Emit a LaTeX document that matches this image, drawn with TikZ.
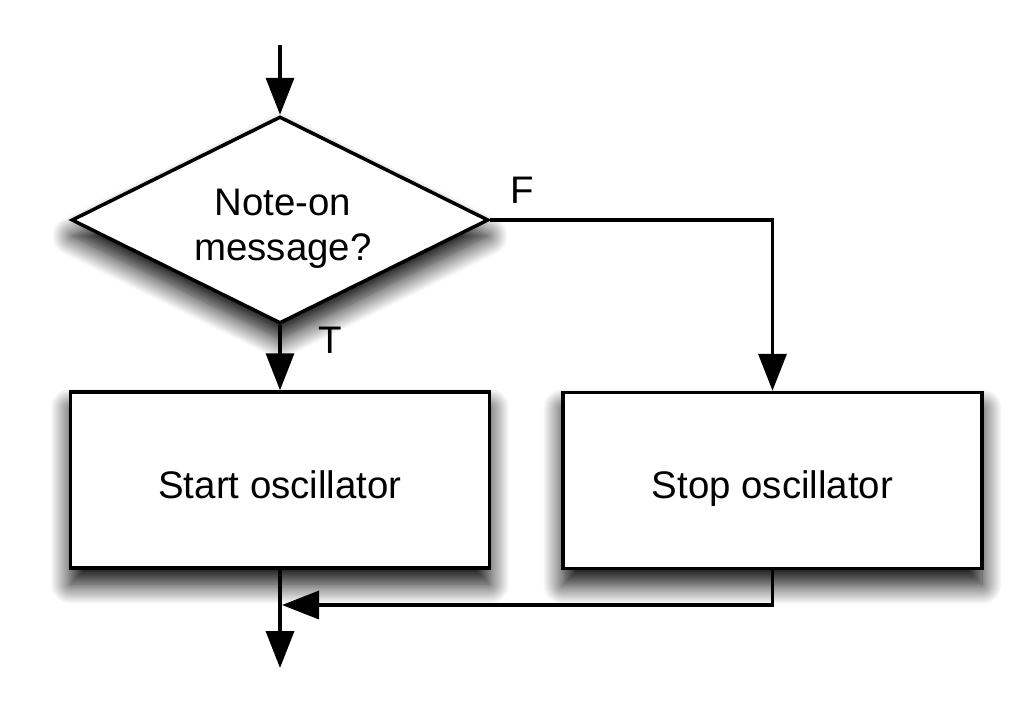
\documentclass[tikz,border=0pt]{standalone}
\usepackage{fontspec}
\setmainfont{Liberation Sans}
\usetikzlibrary{arrows.meta,shapes.geometric,shadows.blur}
\begin{document}
\begin{tikzpicture}[x=1pt,y=-1pt,
  line width=3.5pt,
  every node/.style={font=\fontsize{38.4}{45}\selectfont},
  arr/.style={-{Triangle[width=28pt,length=37pt]}},
  boxshadow/.style={blur shadow={shadow xshift=0pt,shadow yshift=-16pt,shadow blur radius=20pt,shadow blur steps=20,shadow opacity=100}},
  procbox/.style={draw,fill=white,rectangle,minimum width=419pt,minimum height=176pt,inner sep=0pt,text height=36pt,text depth=0pt,boxshadow},
  decbox/.style={draw,fill=white,diamond,aspect=2,minimum width=417pt,minimum height=207pt,inner sep=0pt,boxshadow},
  lbl/.style={inner sep=0pt}
]
\useasboundingbox (0,0) rectangle (1014,716);
\node[decbox] (d) at (280,220) {};
\node[lbl,align=center] (dt) at (283,229) {Note-on\\message?};
\node[procbox] (s) at (280,480) {Start oscillator};
\node[procbox] (p) at (772.5,480.5) {Stop oscillator};
\node[lbl] (F) at (522,190) {F};
\node[lbl] (T) at (330,340) {T};
\coordinate (t0) at (280,45);
\coordinate (j) at (282,605);
\coordinate (e) at (280,668);
\draw[arr] (t0) -- (d.north);
\draw[arr] (d.south) -- (s.north);
\draw[arr] (d.east) -| (p.north);
\draw[arr] (p.south) |- (j);
\draw[arr] (s.south) -- (e);
\end{tikzpicture}
\end{document}
